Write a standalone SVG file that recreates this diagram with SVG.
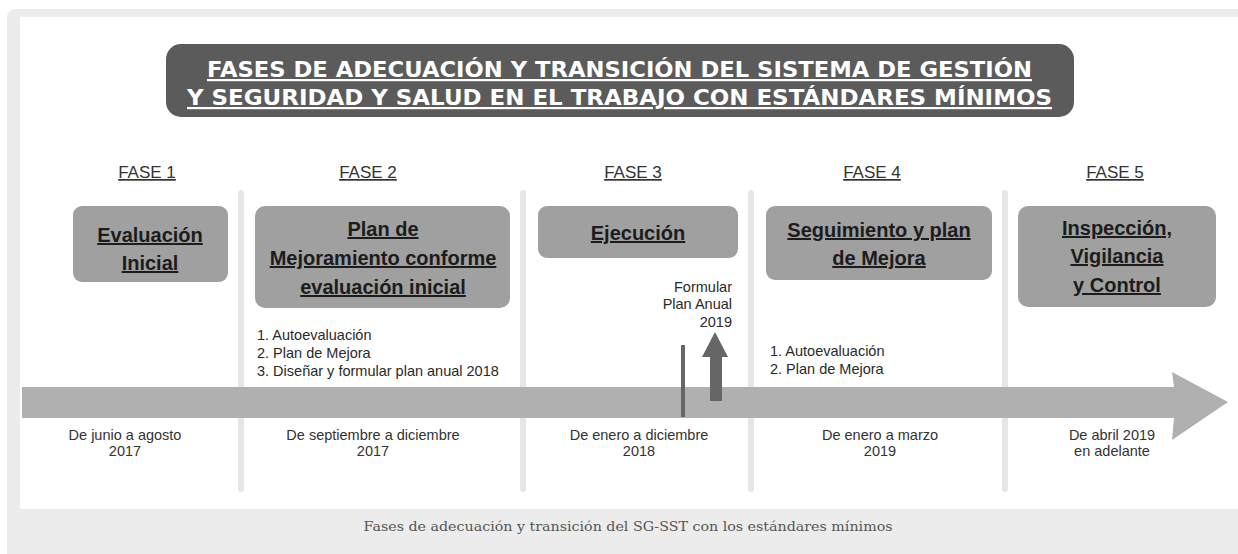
<svg xmlns="http://www.w3.org/2000/svg" width="1238" height="554" viewBox="0 0 1238 554">
<style>
.title{font-family:"DejaVu Sans",sans-serif;font-weight:bold;font-size:22px;fill:#ffffff;text-decoration:underline;text-anchor:middle}
.fase{font-family:"Liberation Sans",sans-serif;font-size:17px;fill:#333;text-decoration:underline;text-anchor:middle}
.box{fill:#a0a0a0}
.bt{font-family:"Liberation Sans",sans-serif;font-weight:bold;font-size:20px;fill:#1c1c1c;text-decoration:underline;text-anchor:middle}
.sm{font-family:"Liberation Sans",sans-serif;font-size:14.5px;fill:#2a2a2a}
.dt{font-family:"Liberation Sans",sans-serif;font-size:14.5px;fill:#333;text-anchor:middle}
.sep{stroke:#e6e6e6;stroke-width:6;stroke-linecap:round}
.cap{font-family:"DejaVu Serif",serif;font-size:12px;fill:#555;text-anchor:middle}
</style>
<rect x="0" y="0" width="1238" height="554" fill="#ffffff"/>
<rect x="7" y="9" width="1250" height="560" rx="8" fill="#ececec"/>
<rect x="20" y="17" width="1218" height="492" fill="#ffffff"/>

<g id="title">
<rect x="166" y="44" width="908" height="73" rx="15" fill="#5b5b5b"/>
<text class="title" x="619.5" y="77" textLength="825" lengthAdjust="spacingAndGlyphs">FASES DE ADECUACIÓN Y TRANSICIÓN DEL SISTEMA DE GESTIÓN</text>
<text class="title" x="619.5" y="105" textLength="865" lengthAdjust="spacingAndGlyphs">Y SEGURIDAD Y SALUD EN EL TRABAJO CON ESTÁNDARES MÍNIMOS</text>
</g>

<g id="separators">
<line class="sep" x1="241" y1="193" x2="241" y2="489"/>
<line class="sep" x1="523" y1="193" x2="523" y2="489"/>
<line class="sep" x1="751" y1="193" x2="751" y2="489"/>
<line class="sep" x1="1005" y1="193" x2="1005" y2="489"/>
</g>

<g id="connectors">
<polygon points="22,387 1174,387 1172,372 1228,402 1172,440 1174,418 22,418" fill="#b0b0b0"/>
<line x1="683" y1="345" x2="683" y2="417" stroke="#666" stroke-width="4"/>
<polygon points="710,401 710,357 702,357 715,332 728,357 722,357 722,401" fill="#666"/>
</g>

<g id="fase1">
<text class="fase" x="147" y="178">FASE 1</text>
<rect class="box" x="73" y="206" width="155" height="76" rx="9"/>
<text class="bt" x="150" y="242">Evaluación</text>
<text class="bt" x="150" y="270">Inicial</text>
<text class="dt" x="125" y="440">De junio a agosto</text>
<text class="dt" x="125" y="456">2017</text>
</g>

<g id="fase2">
<text class="fase" x="368" y="178">FASE 2</text>
<rect class="box" x="255" y="206" width="255" height="102" rx="10"/>
<text class="bt" x="383" y="236">Plan de</text>
<text class="bt" x="383" y="265">Mejoramiento conforme</text>
<text class="bt" x="383" y="294">evaluación inicial</text>
<text class="sm" x="257" y="340">1. Autoevaluación</text>
<text class="sm" x="257" y="358">2. Plan de Mejora</text>
<text class="sm" x="257" y="376">3. Diseñar y formular plan anual 2018</text>
<text class="dt" x="373" y="440">De septiembre a diciembre</text>
<text class="dt" x="373" y="456">2017</text>
</g>

<g id="fase3">
<text class="fase" x="633" y="178">FASE 3</text>
<rect class="box" x="538" y="206" width="200" height="52" rx="9"/>
<text class="bt" x="638" y="240">Ejecución</text>
<text class="sm" x="732" y="292" text-anchor="end">Formular</text>
<text class="sm" x="732" y="309" text-anchor="end">Plan Anual</text>
<text class="sm" x="732" y="327" text-anchor="end">2019</text>
<text class="dt" x="639" y="440">De enero a diciembre</text>
<text class="dt" x="639" y="456">2018</text>
</g>

<g id="fase4">
<text class="fase" x="872" y="178">FASE 4</text>
<rect class="box" x="766" y="206" width="226" height="74" rx="9"/>
<text class="bt" x="879" y="237">Seguimiento y plan</text>
<text class="bt" x="879" y="265">de Mejora</text>
<text class="sm" x="770" y="356">1. Autoevaluación</text>
<text class="sm" x="770" y="374">2. Plan de Mejora</text>
<text class="dt" x="880" y="440">De enero a marzo</text>
<text class="dt" x="880" y="456">2019</text>
</g>

<g id="fase5">
<text class="fase" x="1115" y="178">FASE 5</text>
<rect class="box" x="1018" y="206" width="198" height="101" rx="10"/>
<text class="bt" x="1117" y="235">Inspección,</text>
<text class="bt" x="1117" y="263">Vigilancia</text>
<text class="bt" x="1117" y="292">y Control</text>
<text class="dt" x="1112" y="440">De abril 2019</text>
<text class="dt" x="1112" y="456">en adelante</text>
</g>

<text class="cap" x="628" y="531" textLength="529" lengthAdjust="spacingAndGlyphs">Fases de adecuación y transición del SG-SST con los estándares mínimos</text>
</svg>
